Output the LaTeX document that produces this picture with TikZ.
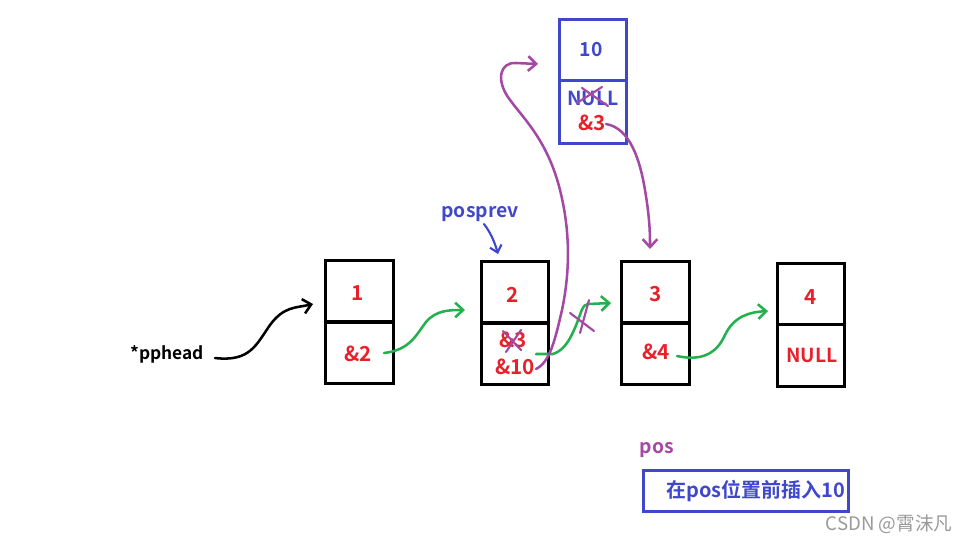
\documentclass[tikz,border=0pt]{standalone}
\usepackage{fontspec}
\setmainfont{Noto Sans CJK SC}[BoldFont={Noto Sans CJK SC Bold}]
\usetikzlibrary{arrows.meta}
\definecolor{pred}{HTML}{E8202A}
\definecolor{pblue}{HTML}{3F48CC}
\definecolor{ppurple}{HTML}{A349A4}
\definecolor{pgreen}{HTML}{22B14C}
\tikzset{
  cellbox/.style={draw, line width=2.25pt, minimum width=50.5pt, minimum height=46pt, inner sep=0pt},
  lbl/.style={font=\bfseries\fontsize{13}{15}\selectfont, inner sep=0pt},
  big/.style={font=\bfseries\fontsize{15.5}{17}\selectfont, inner sep=0pt},
  mid/.style={font=\bfseries\fontsize{14.5}{17}\selectfont, inner sep=0pt},
  hand/.style={line width=1.9pt, line cap=round, line join=round},
  handtip/.style={-{Straight Barb[length=6pt,width=11pt,line width=1.9pt]}},
  xmark/.style={ppurple, line width=1.6pt, line cap=round}
}
\begin{document}
\begin{tikzpicture}[x=0.75pt,y=-0.75pt]
\useasboundingbox (0,0) rectangle (969,544);
% node 1
\node[cellbox] (n1a) at (359.5,291.5) {};
\node[cellbox] (n1b) at (359.5,352.5) {};
\node[big, pred] (t1a) at (358,293) {1};
\node[big, pred] (t1b) at (358,354) {\&2};
% node 2
\node[cellbox] (n2a) at (515,292.5) {};
\node[cellbox] (n2b) at (515,353.5) {};
\node[big, pred] (t2a) at (513,295) {2};
\node[big, pred] (t2b) at (513,340) {\&3};
\node[big, pred] (t2c) at (515,367) {\&10};
% node 3
\node[cellbox] (n3a) at (655.5,292.5) {};
\node[cellbox] (n3b) at (655.5,353.5) {};
\node[big, pred] (t3a) at (656,294) {3};
\node[big, pred] (t3b) at (656,352) {\&4};
% node 4
\node[cellbox] (n4a) at (811,294) {};
\node[cellbox] (n4b) at (811,355.5) {};
\node[big, pred] (t4a) at (811,297) {4};
\node[mid, pred] (t4b) at (812,355) {NULL};
% node 10
\node[cellbox, draw=pblue, minimum height=45.75pt] (n10a) at (593,49.5) {};
\node[cellbox, draw=pblue, minimum height=47.25pt] (n10b) at (593,111.5) {};
\node[mid, pblue] (t10a) at (591,50) {10};
\node[mid, pblue] (t10b) at (593,98) {NULL};
\node[big, pred] (t10c) at (592,123) {\&3};
% labels
\node[lbl] (pphead) at (167,354) {*pphead};
\node[mid, pblue] (posprev) at (480,214) {posprev};
\node[mid, ppurple] (pos) at (657,450) {pos};
\node[draw=pblue, line width=2.25pt, minimum width=153.75pt, minimum height=30.75pt, inner sep=0pt] (note) at (745.5,490.5) {};
\node[font=\bfseries\fontsize{15}{17}\selectfont, inner sep=0pt, pblue] (notetxt) at (756,491) {在pos位置前插入10};
\node[text=black!40, font=\fontsize{14}{16}\selectfont, inner sep=0pt] (wm) at (889,524) {CSDN @霄沫凡};
% connector end points
\coordinate (bk0) at (215,358);
\coordinate (bk1) at (313,304);
\coordinate (g10) at (384,353);
\coordinate (g11) at (465,310);
\coordinate (g20) at (536,354);
\coordinate (g21) at (611,303);
\coordinate (g30) at (677,356);
\coordinate (g31) at (768,311);
\coordinate (p10) at (536,369);
\coordinate (p11) at (538,64);
\coordinate (p20) at (606,124);
\coordinate (p21) at (650,249);
\coordinate (b0) at (484,224);
\coordinate (b1) at (498,254);
% black arrow
\draw[hand, handtip] (bk0) .. controls (250,362) and (256,345) .. (270,325) .. controls (284,306) and (296,308) .. (bk1);
% green arrows
\draw[hand, handtip, pgreen] (g10) .. controls (410,350) and (416,335) .. (426,322) .. controls (436,310) and (450,310) .. (g11);
\draw[hand, handtip, pgreen] (g20) -- (553,354) .. controls (566,350) and (572,335) .. (577,323) .. controls (581,312) and (583,304) .. (588,304) -- (g21);
\draw[hand, handtip, pgreen] (g30) .. controls (700,361) and (716,355) .. (725,335) .. controls (734,316) and (750,312) .. (g31);
% purple arrows
\draw[hand, handtip, ppurple] (p10) .. controls (550,362) and (555,340) .. (562,310) .. controls (572,262) and (568,222) .. (560,190) .. controls (548,142) and (525,120) .. (510,100) .. controls (495,80) and (500,62) .. (516,63) -- (p11);
\draw[hand, handtip, ppurple] (p20) .. controls (630,128) and (640,160) .. (645,190) .. controls (650,220) and (650,235) .. (p21);
% blue arrow
\draw[hand, pblue, -{Straight Barb[length=5pt,width=9pt,line width=1.6pt]}, line width=1.6pt] (b0) .. controls (490,232) and (494,240) .. (b1);
% crosses
\draw[xmark] (582,88) -- (608,106);
\draw[xmark] (602,87) -- (577,103);
\draw[xmark] (503,331) -- (521,350);
\draw[xmark] (521,330) -- (506,352);
\draw[xmark] (570,313) -- (594,331);
\draw[xmark] (589,300) -- (580,333);
\end{tikzpicture}
\end{document}
